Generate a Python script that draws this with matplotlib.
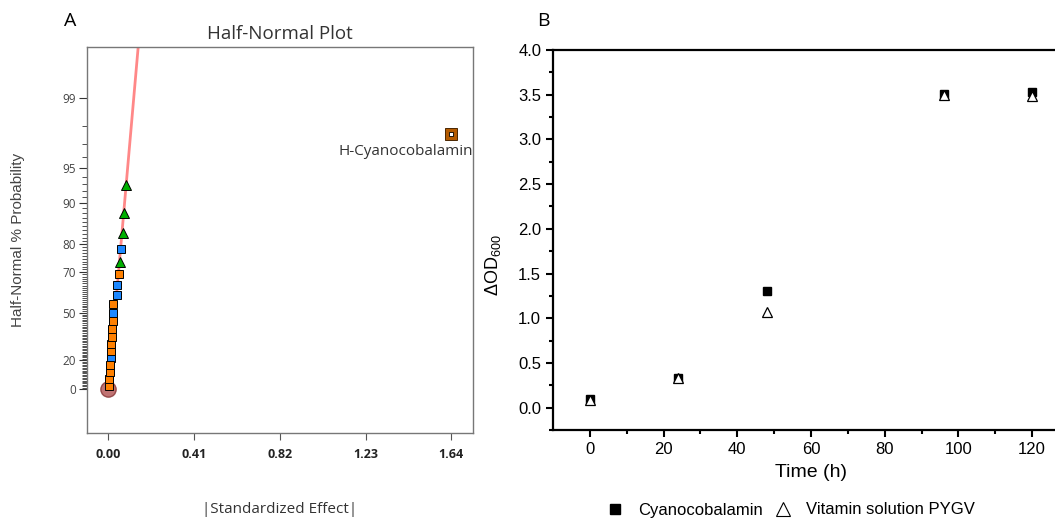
import matplotlib.pyplot as plt
from matplotlib.lines import Line2D
from statistics import NormalDist
import numpy as np

# panel A: half-normal plot of effects
prob_pct = [2.38, 7.14, 11.90, 16.67, 21.43, 26.19, 30.95, 35.71, 40.48, 45.24, 50.00,
            54.76, 59.52, 64.29, 69.05, 73.81, 78.57, 83.33, 88.10, 92.86, 97.62]
effect = [0.003, 0.005, 0.007, 0.008, 0.011, 0.011, 0.013, 0.016, 0.018, 0.021, 0.021,
          0.024, 0.040, 0.043, 0.050, 0.056, 0.061, 0.069, 0.075, 0.085, 1.639]
kind = ["o", "o", "o", "o", "b", "o", "o", "o", "o", "o", "b",
        "o", "b", "b", "o", "g", "b", "g", "g", "g", "h"]
fit_slope = 21.2
prob_ticks = [0, 20, 50, 70, 80, 90, 95, 99]
effect_ticks = [0.00, 0.41, 0.82, 1.23, 1.64]

# panel B: growth
time_h = [0, 24, 48, 96, 120]
cyano = [0.10, 0.33, 1.30, 3.51, 3.53]
vitamin = [0.09, 0.33, 1.07, 3.50, 3.49]


def hn(p):
    # half-normal quantile of a percent probability
    return NormalDist().inv_cdf(0.5 + p / 200.0)


fig = plt.figure(figsize=(10.55, 5.19), dpi=100)

# ---------------- A ----------------
ax0 = fig.add_axes([87/1055, 1-433/519, 386/1055, 386/519])
z = np.array([hn(p) for p in prob_pct])
x = np.array(effect)
k = np.array(kind)

xl = np.linspace(0, 0.16, 10)
ax0.plot(xl, fit_slope*xl, color="#ff6b6b", lw=2.0, alpha=0.8, zorder=2)
ax0.plot([0], [0], "o", ms=11, mfc="#b55a5a", mec="#8a3a3a", alpha=0.85, zorder=3)

styles = {"b": ("s", "#1e88ff", 5.5), "o": ("s", "#ff8000", 5.5), "g": ("^", "#00b000", 7)}
for key in ["b", "o", "g"]:
    m, c, s = styles[key]
    ax0.plot(x[k == key], z[k == key], m, ms=s, mfc=c, mec="black", mew=0.7, ls="none", zorder=4)
ax0.plot(x[k == "h"], z[k == "h"], "s", ms=8, mfc="#b35a00", mec="#4a2500", mew=0.7, zorder=4)
ax0.plot(x[k == "h"], z[k == "h"], "s", ms=3.5, mfc="white", mec="black", mew=0.6, zorder=5)
ax0.text(1.745, 2.10, "H-Cyanocobalamin", ha="right", va="center", fontsize=11,
         family="Open Sans", color="#333333")

ax0.set_xlim(-0.102, 1.744)
ax0.set_ylim(-0.389, 3.027)
ax0.set_xticks(effect_ticks)
ax0.set_xticklabels(["%.2f" % v for v in effect_ticks], fontsize=9, fontweight="bold",
                    family="Open Sans", color="#222222")
ax0.set_yticks([hn(p) for p in prob_ticks])
ax0.set_yticklabels([str(p) for p in prob_ticks], fontsize=8.5, family="Open Sans", color="#444444")
minor = [p for p in range(1, 99) if p not in prob_ticks]
ax0.set_yticks([hn(p) for p in minor], minor=True)
ax0.tick_params(axis="y", which="major", length=6, width=0.8, color="#333333", pad=2)
ax0.tick_params(axis="y", which="minor", length=3.5, width=0.6, color="#333333")
ax0.tick_params(axis="x", which="major", length=5, width=0.8, color="#555555", pad=6)
for sp in ax0.spines.values():
    sp.set_color("#777777")
    sp.set_linewidth(1.0)
ax0.set_title("Half-Normal Plot", fontsize=13.5, family="Open Sans", color="#333333", pad=6)
ax0.set_xlabel("|Standardized Effect|", fontsize=11, family="Open Sans", color="#333333")
ax0.xaxis.set_label_coords(0.5, (433 - 502) / 386)
ax0.set_ylabel("Half-Normal % Probability", fontsize=11, family="Liberation Sans", color="#444444")
ax0.yaxis.set_label_coords((25 - 87) / 386, 0.5)
fig.text(70/1055, 1-21/519, "A", fontsize=14, family="Open Sans", ha="center", va="center")

# ---------------- B ----------------
plt.rcParams["mathtext.fontset"] = "custom"
plt.rcParams["mathtext.rm"] = "Liberation Sans"
ax1 = fig.add_axes([553/1055, 1-430/519, 516/1055, 380/519])
ax1.plot(time_h, cyano, "s", ms=6, mfc="black", mec="black", ls="none", zorder=3,
         label="Cyanocobalamin")
ax1.plot(time_h, vitamin, "^", ms=7.5, mfc="white", mec="black", mew=0.9, ls="none", zorder=4,
         label="Vitamin solution PYGV")
ax1.set_xlim(-10, 130)
ax1.set_ylim(-0.25, 4.0)
ax1.set_xticks([0, 20, 40, 60, 80, 100, 120])
ax1.set_xticks([10, 30, 50, 70, 90, 110], minor=True)
ax1.set_yticks([0.0, 0.5, 1.0, 1.5, 2.0, 2.5, 3.0, 3.5, 4.0])
ax1.set_yticks(np.arange(-0.25, 4.0, 0.5), minor=True)
ax1.set_yticklabels(["%.1f" % v for v in ax1.get_yticks()])
for lab in ax1.get_xticklabels() + ax1.get_yticklabels():
    lab.set_family("Liberation Sans")
    lab.set_fontsize(12)
ax1.tick_params(which="major", length=5, width=1.5, direction="out")
ax1.tick_params(which="minor", length=3, width=1.5, direction="out")
for sp in ax1.spines.values():
    sp.set_linewidth(1.6)
ax1.set_xlabel("Time (h)", fontsize=14, family="Liberation Sans", labelpad=5)
ax1.set_ylabel(r"$\Delta$OD$_{600}$", fontsize=13, family="Liberation Sans")
ax1.yaxis.set_label_coords((503 - 553) / 516, (430 - 265) / 380)
fig.text(543/1055, 1-21/519, "B", fontsize=14, family="Open Sans", ha="center", va="center")

handles = [Line2D([], [], marker="s", ms=6.5, color="black", ls="none"),
           Line2D([], [], marker="^", ms=9.5, mfc="white", mec="black", mew=0.8, ls="none")]
fig.legend(handles, ["Cyanocobalamin", "Vitamin solution PYGV"], loc="center",
           bbox_to_anchor=(790/1055, 1-510/519), ncol=2, frameon=False,
           prop={"family": "Liberation Sans", "size": 12}, handletextpad=0.8,
           columnspacing=0.6, handlelength=1.2)

fig.savefig("out.png", dpi=100)
